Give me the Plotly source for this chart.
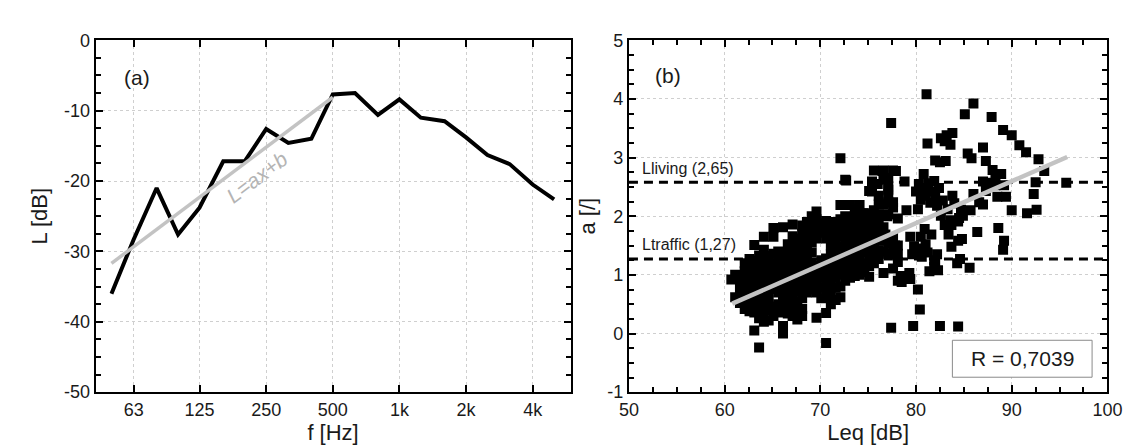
import math
import plotly.graph_objects as go

# ---------------- Panel (a): spectrum ----------------
freq = [50, 63, 80, 100, 125, 160, 200, 250, 315, 400, 500, 630, 800,
        1000, 1250, 1600, 2000, 2500, 3150, 4000, 5000]
level = [-36.0, -28.3, -21.0, -27.6, -23.8, -17.2, -17.2, -12.6, -14.6,
         -14.0, -7.7, -7.5, -10.6, -8.4, -11.0, -11.5, -13.8, -16.3,
         -17.6, -20.5, -22.6]
fit_freq = [50, 500]
fit_level = [-31.7, -8.1]
freq_ticks = [63, 125, 250, 500, 1000, 2000, 4000]
freq_ticktext = ["63", "125", "250", "500", "1k", "2k", "4k"]
level_ticks = [-50, -40, -30, -20, -10, 0]
level_ticktext = ["-50", "-40", "-30", "-20", "-10", "0"]

# ---------------- Panel (b): scatter ----------------
# dense cloud, read column by column (Leq column -> a values)
cloud_leq = [60.7, 61.1, 61.6, 62.1, 62.6, 63.1, 63.6, 64.1, 64.6, 65.1,
             65.6, 66.1, 66.6, 67.1, 67.6, 68.1, 68.6, 69.1, 69.6, 70.1,
             70.6, 71.1, 71.6, 72.1, 72.6, 73.1, 73.6, 74.1, 74.6, 75.1,
             75.6, 76.1, 76.6, 77.1, 77.6, 78.1]
cloud_a = [
    [0.92],
    [0.62, 1.0],
    [0.52, 0.68, 0.84, 0.98],
    [0.42, 0.57, 0.74, 0.9, 1.06, 1.2],
    [0.38, 0.53, 0.7, 0.86, 1.02, 1.16, 1.27],
    [0.05, 0.36, 0.5, 0.66, 0.82, 0.98, 1.12, 1.24, 1.51],
    [-0.24, 0.26, 0.42, 0.58, 0.74, 0.9, 1.05, 1.2, 1.33],
    [0.2, 0.36, 0.52, 0.68, 0.85, 1.0, 1.15, 1.3, 1.43, 1.65],
    [0.22, 0.4, 0.56, 0.72, 0.88, 1.03, 1.18, 1.32],
    [0.3, 0.46, 0.76, 0.9, 1.05, 1.2, 1.36, 1.65, 1.8],
    [0.36, 0.5, 0.7, 0.86, 1.0, 1.13, 1.28, 1.4],
    [0.0, 0.13, 0.38, 0.52, 0.66, 0.8, 0.95, 1.1, 1.25, 1.38, 1.81],
    [0.34, 0.5, 0.63, 0.78, 0.92, 1.08, 1.22, 1.36, 1.52],
    [0.3, 0.45, 0.6, 0.75, 0.9, 1.05, 1.2, 1.35, 1.5, 1.66, 1.86],
    [0.24, 0.4, 0.55, 0.72, 0.88, 1.02, 1.18, 1.32, 1.48, 1.62],
    [0.3, 0.42, 0.6, 0.78, 0.92, 1.1, 1.25, 1.4, 1.55, 1.7, 1.84],
    [0.7, 0.85, 1.0, 1.15, 1.3, 1.45, 1.6, 1.75, 1.9],
    [0.75, 0.9, 1.05, 1.2, 1.38, 1.55, 1.7, 1.85, 2.0],
    [0.27, 0.7, 0.85, 1.0, 1.15, 1.62, 1.78, 1.95, 2.08],
    [0.6, 0.78, 0.95, 1.1, 1.25, 1.72, 1.88],
    [-0.16, 0.35, 0.65, 0.82, 0.98, 1.12, 1.28, 1.62, 1.8, 1.92],
    [0.5, 0.72, 0.88, 1.02, 1.18, 1.35, 1.5, 1.68, 1.85],
    [0.57, 0.78, 0.95, 1.1, 1.25, 1.42, 1.58, 1.75, 1.9],
    [0.62, 0.8, 1.0, 1.15, 1.3, 1.48, 1.65, 1.8, 1.95, 2.19, 2.99],
    [0.9, 1.05, 1.2, 1.35, 1.52, 1.7, 1.85, 2.0, 2.62],
    [0.95, 1.1, 1.27, 1.49, 1.65, 1.8, 1.95, 2.19],
    [0.98, 1.15, 1.3, 1.45, 1.6, 1.75, 1.9, 2.05],
    [1.0, 1.16, 1.32, 1.5, 1.65, 1.8, 1.92, 2.05, 2.19],
    [1.05, 1.2, 1.38, 1.55, 1.7, 1.85, 2.0],
    [0.97, 1.15, 1.27, 1.45, 1.6, 1.75, 1.9, 2.05, 2.43],
    [1.2, 1.35, 1.5, 1.65, 1.82, 2.0, 2.1, 2.78],
    [1.27, 1.42, 1.58, 1.75, 1.9, 2.03, 2.2, 2.35],
    [1.03, 1.4, 1.59, 1.81, 2.03, 2.2, 2.62, 2.78],
    [1.36, 1.54, 2.03, 2.24, 2.35, 2.51, 2.65],
    [1.11, 1.45, 1.63, 2.15, 2.24, 2.78],
    [0.9, 1.22, 1.5],
]
# sparser points, read individually
sparse_leq = [77.4, 81.1, 86.0, 85.1, 87.9, 89.1, 90.0, 90.8, 91.5, 92.8,
              93.4, 95.7, 92.5, 92.3, 90.0, 91.6, 92.6, 88.5, 89.4, 87.0,
              88.3, 89.2, 88.0, 88.3, 88.9, 87.3, 87.0, 85.4, 85.8, 83.8,
              83.6, 83.2, 83.0, 82.6, 81.2, 82.0, 82.5, 83.1, 80.8, 78.8,
              79.0, 80.2, 80.0, 80.3, 80.5, 80.9, 81.0, 81.3, 81.5, 81.7,
              81.9, 82.2, 82.0, 82.4, 82.6, 82.8, 83.0, 83.3, 83.6, 83.8,
              84.0, 80.9, 80.5, 81.2, 81.6, 79.4, 79.8, 79.6, 80.3, 81.0,
              81.9, 81.9, 81.4, 82.2, 82.0, 82.3, 80.6, 84.3, 84.6, 85.6,
              83.7, 84.4, 83.4, 83.7, 84.5, 84.4, 84.8, 84.9, 85.7, 84.7,
              86.0, 86.6, 87.0, 87.3, 88.0, 86.4, 88.6, 89.2, 89.1, 78.5,
              78.4, 79.3, 79.4, 80.2, 80.4, 77.4, 79.7, 82.5, 84.4, 77.4,
              77.8, 78.1, 76.8, 77.1, 75.4, 76.5, 77.9, 72.7, 75.4, 77.1,
              76.0, 73.7, 74.5, 75.8, 77.0, 78.1]
sparse_a = [3.59, 4.08, 3.92, 3.74, 3.69, 3.47, 3.38, 3.21, 3.09, 2.97,
            2.77, 2.57, 2.58, 2.38, 2.10, 2.05, 2.11, 2.33, 2.33, 2.20,
            2.53, 2.53, 2.79, 2.68, 2.72, 2.94, 3.17, 3.07, 2.99, 3.42,
            3.22, 3.38, 3.28, 3.33, 3.24, 2.95, 2.92, 2.94, 2.72, 2.59,
            2.10, 2.12, 2.42, 2.55, 2.28, 2.48, 2.35, 2.56, 2.23, 2.42,
            2.60, 2.18, 2.32, 2.48, 2.01, 2.27, 1.85, 2.12, 1.93, 2.35,
            2.22, 1.78, 1.65, 1.38, 1.69, 1.65, 1.49, 1.35, 1.45, 1.52,
            1.25, 1.14, 1.06, 1.35, 1.19, 1.08, 1.31, 1.20, 1.27, 1.12,
            1.48, 1.58, 1.69, 1.85, 1.97, 1.91, 1.61, 2.01, 2.10, 2.11,
            2.38, 2.24, 2.59, 2.43, 2.57, 1.73, 1.80, 1.58, 1.43, 0.88,
            0.98, 1.03, 0.93, 0.75, 0.41, 0.10, 0.13, 0.13, 0.12, 1.63,
            1.50, 1.36, 1.69, 1.36, 2.59, 2.77, 2.77, 2.61, 2.42, 2.45,
            2.55, 2.12, 2.05, 1.98, 2.00, 1.96]
a_ticks = [-1, 0, 1, 2, 3, 4, 5]
a_ticktext = ["-1", "0", "1", "2", "3", "4", "5"]

lliving = 2.58
ltraffic = 1.27
fit2_leq = [60.8, 95.8]
fit2_a = [0.51, 3.01]

leq = []
a_val = []
for xv, ys in zip(cloud_leq, cloud_a):
    for yv in ys:
        leq.append(xv)
        a_val.append(yv)
leq += sparse_leq
a_val += sparse_a

FONT = "Liberation Sans, Arial, sans-serif"
TXT = "#1a1a1a"

fig = go.Figure()

# panel a
fig.add_trace(go.Scatter(x=freq, y=level, mode="lines",
                         line=dict(color="black", width=4),
                         xaxis="x", yaxis="y", hoverinfo="skip"))
fig.add_trace(go.Scatter(x=fit_freq, y=fit_level, mode="lines",
                         line=dict(color="#c3c3c3", width=3.5),
                         xaxis="x", yaxis="y", hoverinfo="skip"))

# panel b
fig.add_trace(go.Scatter(x=leq, y=a_val, mode="markers",
                         marker=dict(symbol="square", size=10, color="black",
                                     line=dict(width=0)),
                         xaxis="x2", yaxis="y2"))
for yv in (lliving, ltraffic):
    fig.add_trace(go.Scatter(x=[50, 100], y=[yv, yv], mode="lines",
                             line=dict(color="black", width=3, dash="9px,6px"),
                             xaxis="x2", yaxis="y2", hoverinfo="skip"))
fig.add_trace(go.Scatter(x=fit2_leq, y=fit2_a, mode="lines",
                         line=dict(color="#c3c3c3", width=4.5),
                         xaxis="x2", yaxis="y2", hoverinfo="skip"))

ydom = [0.1237, 0.9479]
common = dict(showline=True, linecolor="black", linewidth=2, mirror="ticks",
              ticks="inside", ticklen=7, tickwidth=1.5, tickcolor="black",
              showgrid=True, gridcolor="#cfcfcf", griddash="dot", gridwidth=1,
              zeroline=False, tickfont=dict(family=FONT, size=18, color=TXT))
minor_style = dict(ticks="inside", ticklen=5, tickwidth=1.5,
                   tickcolor="black", showgrid=False)

fig.update_layout(
    width=1132, height=447, autosize=False,
    margin=dict(l=0, r=0, t=0, b=0),
    paper_bgcolor="white", plot_bgcolor="white",
    showlegend=False,
    font=dict(family=FONT, color=TXT),
    xaxis=dict(type="log", domain=[0.0701, 0.4991], anchor="y",
               range=[math.log10(42.4), math.log10(5930)],
               tickvals=freq_ticks, ticktext=freq_ticktext,
               title=dict(text="f [Hz]", font=dict(family=FONT, size=22, color=TXT), standoff=6),
               **common),
    yaxis=dict(domain=ydom, anchor="x", range=[-50, 0],
               tickvals=level_ticks, ticktext=level_ticktext,
               minor=dict(dtick=2.5, **minor_style),
               title=dict(text="L [dB]", font=dict(family=FONT, size=22, color=TXT), standoff=10),
               **common),
    xaxis2=dict(domain=[0.5519, 0.9841], anchor="y2", range=[50, 100], dtick=10,
                minor=dict(dtick=2.5, **minor_style),
                title=dict(text="Leq [dB]", font=dict(family=FONT, size=22, color=TXT), standoff=6),
                **common),
    yaxis2=dict(domain=ydom, anchor="x2", range=[-1, 5],
                tickvals=a_ticks, ticktext=a_ticktext,
                minor=dict(dtick=0.25, **minor_style),
                title=dict(text="a [/]", font=dict(family=FONT, size=22, color=TXT), standoff=6),
                **common),
)

fig.add_annotation(x=math.log10(65.3), y=-5.25, xref="x", yref="y", text="(a)",
                   showarrow=False, font=dict(family=FONT, size=21, color=TXT))
fig.add_annotation(x=math.log10(226.5), y=-19.5, xref="x", yref="y",
                   text="<i>L=ax+b</i>", textangle=-37, showarrow=False,
                   font=dict(family=FONT, size=21, color="#b4b4b4"))
fig.add_annotation(x=54.1, y=4.40, xref="x2", yref="y2", text="(b)",
                   showarrow=False, font=dict(family=FONT, size=21, color=TXT))
fig.add_annotation(x=51.2, y=2.82, xref="x2", yref="y2", text="Lliving (2,65)",
                   xanchor="left", showarrow=False,
                   font=dict(family=FONT, size=16, color=TXT))
fig.add_annotation(x=51.2, y=1.52, xref="x2", yref="y2", text="Ltraffic (1,27)",
                   xanchor="left", showarrow=False,
                   font=dict(family=FONT, size=16, color=TXT))
fig.add_shape(type="rect", xref="x2", yref="y2", x0=83.8, x1=98.4, y0=-0.745, y1=-0.115,
              line=dict(color="#8a8a8a", width=1), fillcolor="white", layer="above")
fig.add_annotation(x=91.1, y=-0.43, xref="x2", yref="y2", text="R = 0,7039",
                   showarrow=False, font=dict(family=FONT, size=21, color=TXT))

fig.write_html("out.html")
